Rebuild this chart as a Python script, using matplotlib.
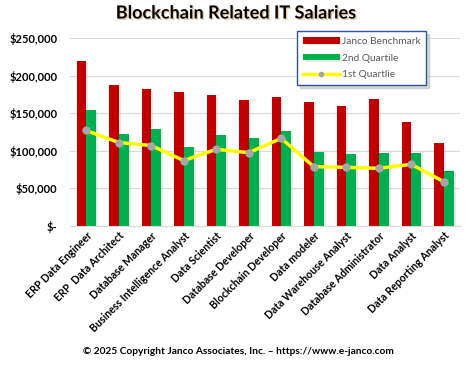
import matplotlib
matplotlib.use("Agg")
import matplotlib.pyplot as plt
import matplotlib.patheffects as pe
import numpy as np
from matplotlib.ticker import FuncFormatter

categories = ["ERP Data Engineer", "ERP  Data Architect", "Database Manager",
              "Business Intelligence Analyst", "Data Scientist", "Database Developer",
              "Blockchain Developer", "Data modeler", "Data Warehouse Analyst",
              "Database Administrator", "Data Analyst", "Data Reporting Analyst"]
janco = [220000, 187500, 182000, 178000, 174000, 167500, 171500, 165000, 159500, 169000, 138000, 110000]
q2 = [154000, 122000, 129000, 105000, 121000, 117000, 126000, 98500, 96000, 97000, 97000, 73000]
q1 = [127000, 111000, 107000, 87000, 102000, 97500, 116500, 79000, 78000, 76700, 82000, 59000]

plt.rcParams['font.family'] = ['Lato', 'DejaVu Sans']

fig = plt.figure(figsize=(4.72, 3.71), dpi=100)
ax = fig.add_axes([70/472, 1-226/371, 390/472, (226-38)/371])

x = np.arange(len(categories))
w = 0.3
shadow = [pe.SimplePatchShadow(offset=(1.5, -1), shadow_rgbFace='#BBBBBB', alpha=0.35), pe.Normal()]
b1 = ax.bar(x - w/2, janco, w, color='#C00000', label='Janco Benchmark', zorder=2)
b2 = ax.bar(x + w/2, q2, w, color='#00B050', label='2nd Quartile', zorder=2)
for b in list(b1) + list(b2):
    b.set_path_effects(shadow)
l, = ax.plot(x, q1, color='#FFFF00', lw=2.5, marker='o', markersize=5,
             markerfacecolor='#A6A6A6', markeredgecolor='#A6A6A6', label='1st Quartlie', zorder=3)

ax.set_ylim(0, 250000)
ax.set_xlim(-0.5, len(categories) - 0.5)
ax.set_yticks(np.arange(0, 250001, 50000))
ax.yaxis.set_major_formatter(FuncFormatter(lambda v, p: "$-" if v == 0 else f"${v:,.0f}"))
ax.grid(axis='y', color='#D9D9D9', lw=0.8, zorder=0)
ax.set_axisbelow(True)
for s in ['top', 'right', 'left']:
    ax.spines[s].set_visible(False)
ax.spines['bottom'].set_color('#D9D9D9')
ax.tick_params(axis='both', length=0, labelsize=8)
ax.tick_params(axis='y', pad=9)
ax.tick_params(axis='x', pad=3)
ax.set_xticks(x)
ax.set_xticklabels(categories, rotation=45, ha='right', rotation_mode='anchor', fontsize=7.6)
for t in ax.get_xticklabels() + ax.get_yticklabels():
    t.set_fontweight('bold')

fig.text(0.5, 1-13/371, "Blockchain Related IT Salaries", ha='center', va='center',
         fontsize=13, fontweight='bold',
         path_effects=[pe.withSimplePatchShadow(offset=(1, -1), shadow_rgbFace='#B07000', alpha=0.35)])
fig.text(238/472, 1-352/371, "© 2025 Copyright Janco Associates, Inc. – https://www.e-janco.com",
         ha='center', va='center', fontsize=7.3, fontweight='bold')

leg = ax.legend([b1, b2, l], ['Janco Benchmark', '2nd Quartile', '1st Quartlie'],
                loc='upper left', bbox_to_anchor=((297-70)/390, 1+7/188), frameon=True,
                fontsize=7.3, handlelength=3.6, handleheight=0.6, labelspacing=0.75, borderpad=0.6,
                borderaxespad=0, fancybox=False,
                shadow={'color': '#BFBFBF', 'alpha': 0.6},
                handletextpad=0.2, markerscale=0.6, labelcolor='#595959')
leg.get_frame().set_edgecolor('#2F5597')
leg.get_frame().set_linewidth(1.0)
leg.set_zorder(10)

fig.savefig("out.png", dpi=100)
